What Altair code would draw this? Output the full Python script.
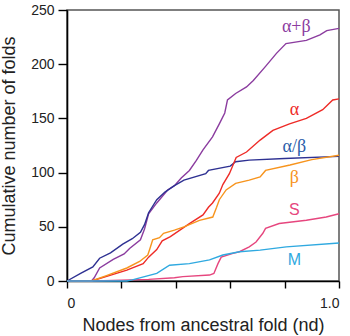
import altair as alt
import pandas as pd

# ---- data ----
ab_x = [0.0, 0.09, 0.10, 0.12, 0.17, 0.21, 0.23, 0.27, 0.285, 0.30, 0.33, 0.35, 0.37, 0.395, 0.42, 0.45, 0.475, 0.50, 0.535, 0.56, 0.58, 0.59, 0.62, 0.66, 0.685, 0.73, 0.77, 0.805, 0.88, 0.93, 0.955, 1.0]
ab_y = [0, 0, 3, 12, 20, 25, 30, 38, 48, 62, 72, 78, 84, 88, 95, 102, 111, 121, 133, 145, 155, 167, 173, 179, 185, 198, 210, 219, 222, 227, 231, 233]

aslb_x = [0.0, 0.05, 0.095, 0.12, 0.16, 0.205, 0.24, 0.27, 0.285, 0.30, 0.33, 0.36, 0.395, 0.43, 0.51, 0.52, 0.60, 0.62, 0.67, 0.80, 1.0]
aslb_y = [0, 7, 13, 21, 26, 34, 39, 45, 52, 63, 75, 82, 88, 93, 99, 102, 106, 110, 111.5, 113, 115]

a_x = [0.0, 0.09, 0.155, 0.22, 0.28, 0.30, 0.33, 0.35, 0.38, 0.45, 0.50, 0.52, 0.535, 0.56, 0.573, 0.597, 0.622, 0.66, 0.71, 0.757, 0.818, 0.88, 0.94, 0.977, 1.0]
a_y = [0, 0, 5, 10, 16, 22, 29, 37, 41, 53, 61, 68, 72, 81, 89, 99, 114, 119, 130, 139, 145, 150, 158, 167, 168]

b_x = [0.0, 0.09, 0.145, 0.22, 0.267, 0.297, 0.305, 0.315, 0.34, 0.355, 0.395, 0.43, 0.487, 0.536, 0.55, 0.56, 0.585, 0.62, 0.67, 0.71, 0.73, 0.82, 0.90, 1.0]
b_y = [0, 0, 5, 12, 18, 24, 30, 38, 40, 44, 47, 50, 56, 59, 68, 75, 84, 90, 93, 96, 102, 107, 112, 116]

s_x = [0.0, 0.1, 0.30, 0.395, 0.426, 0.524, 0.54, 0.555, 0.567, 0.61, 0.634, 0.67, 0.695, 0.72, 0.73, 0.78, 0.88, 0.953, 1.0]
s_y = [0, 0, 1.5, 3, 4, 5.5, 7, 16, 22, 25.5, 27, 31.5, 36, 44, 48.5, 53, 56, 59, 62]

m_x = [0.0, 0.22, 0.24, 0.33, 0.377, 0.45, 0.524, 0.573, 0.634, 0.71, 0.806, 1.0]
m_y = [0, 0, 1, 7, 14.5, 16, 19.5, 24, 27, 28.5, 31.5, 35]

series_names = ["α+β", "α/β", "α", "β", "S", "M"]
series_colors = ["#8B3C9F", "#2E3192", "#EE2B27", "#F7941D", "#E6467E", "#2FA9E0"]
label_colors = ["#8B3C9F", "#2A5DAA", "#EE2B27", "#F7941D", "#E6467E", "#2FA9E0"]

label_x = [0.843, 0.836, 0.836, 0.836, 0.836, 0.836]
label_y = [234, 123.5, 157.5, 95, 65.5, 19.5]

x_ticks = [0.0, 0.1, 0.2, 0.3, 0.4, 0.5, 0.6, 0.7, 0.8, 0.9, 1.0]
y_ticks = [0, 50, 100, 150, 200, 250]

# ---- build tables ----
rows = []
for name, xs, ys in zip(series_names,
                        [ab_x, aslb_x, a_x, b_x, s_x, m_x],
                        [ab_y, aslb_y, a_y, b_y, s_y, m_y]):
    for i, (xv, yv) in enumerate(zip(xs, ys)):
        rows.append({"series": name, "x": xv, "y": yv, "i": i})
df = pd.DataFrame(rows)

lab = pd.DataFrame({"series": series_names, "x": label_x, "y": label_y})
greek = lab[lab["series"].isin(["α+β", "α/β", "α", "β"])]
latin = lab[lab["series"].isin(["S", "M"])]

color = alt.Color("series:N", scale=alt.Scale(domain=series_names, range=series_colors), legend=None)
lcolor = alt.Color("series:N", scale=alt.Scale(domain=series_names, range=label_colors), legend=None)

xscale = alt.Scale(domain=[0, 1], nice=False, zero=False)
yscale = alt.Scale(domain=[0, 250], nice=False)

label_expr = "datum.value == 0 ? '0' : (datum.value == 0.5 ? '0.5' : (datum.value == 1 ? '1.0' : ''))"

lines = alt.Chart(df).mark_line(strokeWidth=1.4, interpolate="linear").encode(
    x=alt.X("x:Q", scale=xscale,
            axis=alt.Axis(title="Nodes from ancestral fold (nd)", values=x_ticks,
                          labelExpr=label_expr, tickSize=7, labelPadding=8,
                          titlePadding=6, grid=False)),
    y=alt.Y("y:Q", scale=yscale,
            axis=alt.Axis(title="Cumulative number of folds", values=y_ticks,
                          tickSize=9, labelPadding=4, titlePadding=12, grid=False)),
    color=color,
    order="i:Q",
)

greek_text = alt.Chart(greek).mark_text(font="Liberation Serif", fontSize=18, align="center", baseline="middle").encode(
    x=alt.X("x:Q", scale=xscale), y=alt.Y("y:Q", scale=yscale), text="series:N", color=lcolor)

latin_text = alt.Chart(latin).mark_text(font="Liberation Sans", fontSize=16, align="center", baseline="middle").encode(
    x=alt.X("x:Q", scale=xscale), y=alt.Y("y:Q", scale=yscale), text="series:N", color=lcolor)

chart = alt.layer(lines, greek_text, latin_text).resolve_scale(color="independent").properties(
    width=272, height=271,
    autosize=alt.AutoSizeParams(type="none"),
    padding={"left": 67, "top": 10, "right": 11, "bottom": 55},
).configure_view(
    stroke="#555555", strokeWidth=1.5
).configure_axis(
    domainColor="black", domainWidth=1.6, tickColor="black", tickWidth=1.4,
    labelFont="Liberation Sans", labelFontSize=14, labelColor="#222222",
    titleFont="Liberation Sans", titleFontSize=18, titleFontWeight="normal", titleColor="#222222",
)

chart.save("out.html", embed_options={"renderer": "svg", "actions": False})
